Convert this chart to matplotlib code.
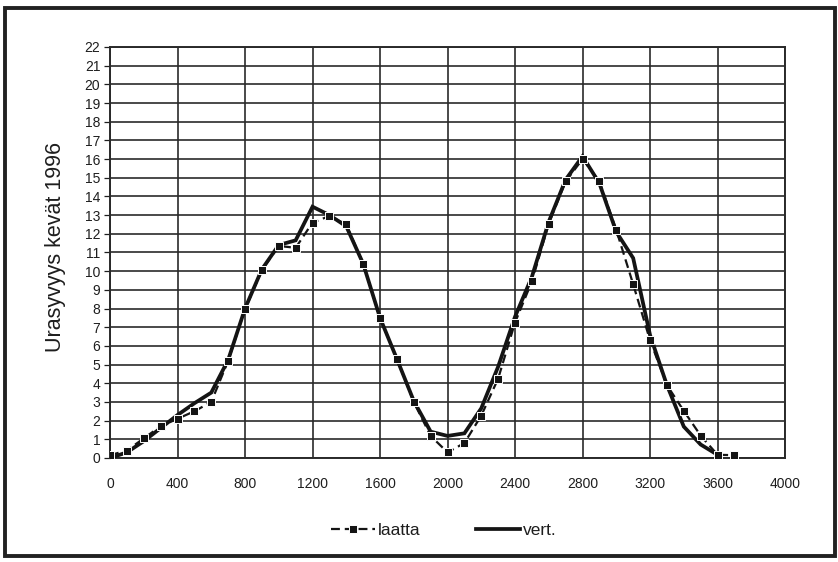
import matplotlib
matplotlib.use("Agg")
import matplotlib.pyplot as plt
from matplotlib.patches import Rectangle

plt.rcParams['font.family'] = ['Liberation Sans', 'DejaVu Sans']

# Distance along the line (m)
x_laatta = [0, 100, 200, 300, 400, 500, 600, 700, 800, 900,
            1000, 1100, 1200, 1300, 1400, 1500, 1600, 1700, 1800, 1900,
            2000, 2100, 2200, 2300, 2400, 2500, 2600, 2700, 2800, 2900,
            3000, 3100, 3200, 3300, 3400, 3500, 3600, 3700]
laatta = [0.15, 0.4, 1.05, 1.7, 2.1, 2.5, 3.0, 5.2, 7.95, 10.05,
          11.35, 11.25, 12.6, 12.95, 12.5, 10.4, 7.5, 5.3, 3.0, 1.18,
          0.3, 0.8, 2.27, 4.25, 7.25, 9.45, 12.55, 14.8, 16.0, 14.8,
          12.2, 9.3, 6.3, 3.9, 2.52, 1.2, 0.17, 0.15]

x_vert = [0, 100, 200, 300, 400, 500, 600, 700, 800, 900,
          1000, 1100, 1200, 1300, 1400, 1500, 1600, 1700, 1800, 1900,
          2000, 2100, 2200, 2300, 2400, 2500, 2600, 2700, 2800, 2900,
          3000, 3100, 3200, 3300, 3400, 3500, 3600]
vert = [0.0, 0.3, 0.9, 1.6, 2.3, 2.93, 3.5, 5.25, 8.0, 10.1,
        11.4, 11.65, 13.45, 13.0, 12.4, 10.4, 7.5, 5.3, 3.05, 1.41,
        1.18, 1.32, 2.66, 4.89, 7.56, 9.7, 12.65, 14.9, 16.15, 14.7,
        12.1, 10.7, 6.58, 3.9, 1.68, 0.72, 0.17]

x_ticks = [0, 400, 800, 1200, 1600, 2000, 2400, 2800, 3200, 3600, 4000]
y_ticks = list(range(0, 23))
y_label = "Urasyvyys kevät 1996"

fig = plt.figure(figsize=(8.38, 5.62), dpi=100)
ax = fig.add_axes([0.1313, 0.1851, 0.8055, 0.7313])

line_col = "#141414"
grid_col = "#2a2a2a"
text_col = "#1e1e1e"

ax.plot(x_vert, vert, color=line_col, lw=2.7, solid_joinstyle='miter',
        label="vert.", zorder=3)
ax.plot(x_laatta, laatta, color=line_col, lw=1.6, ls=(0, (4, 2.2)),
        marker='s', markersize=5.4, markerfacecolor=line_col,
        markeredgecolor='white', markeredgewidth=0.7,
        label="laatta", zorder=4)

ax.set_xlim(0, 4000)
ax.set_ylim(0, 22)
ax.set_xticks(x_ticks)
ax.set_yticks(y_ticks)
ax.set_xticklabels([str(v) for v in x_ticks])
ax.set_yticklabels([str(v) for v in y_ticks])
ax.tick_params(axis='x', length=0, pad=14, labelsize=10, colors=text_col)
ax.tick_params(axis='y', length=4, width=0.9, pad=3, labelsize=10,
               colors=text_col, direction='out')

ax.grid(True, color=grid_col, lw=1.2)
ax.set_axisbelow(True)
for s in ax.spines.values():
    s.set_color(grid_col)
    s.set_linewidth(1.4)

fig.text(0.066, 0.56, y_label, rotation=90, ha='center', va='center',
         fontsize=15.5, color=text_col)

handles, labels = ax.get_legend_handles_labels()
leg = fig.legend([handles[1], handles[0]], [labels[1], labels[0]],
                 loc='center', bbox_to_anchor=(0.53, 0.056), ncol=2,
                 frameon=False, fontsize=12.5, handlelength=2.5,
                 numpoints=1, handletextpad=0.2, columnspacing=3.2)
for t in leg.get_texts():
    t.set_color(text_col)

# Outer frame around the whole chart
fig.patches.append(Rectangle((0.006, 0.01), 0.99, 0.976, transform=fig.transFigure,
                             fill=False, edgecolor='#222222', lw=2.8))

fig.savefig("out.png", dpi=100, facecolor='white')
